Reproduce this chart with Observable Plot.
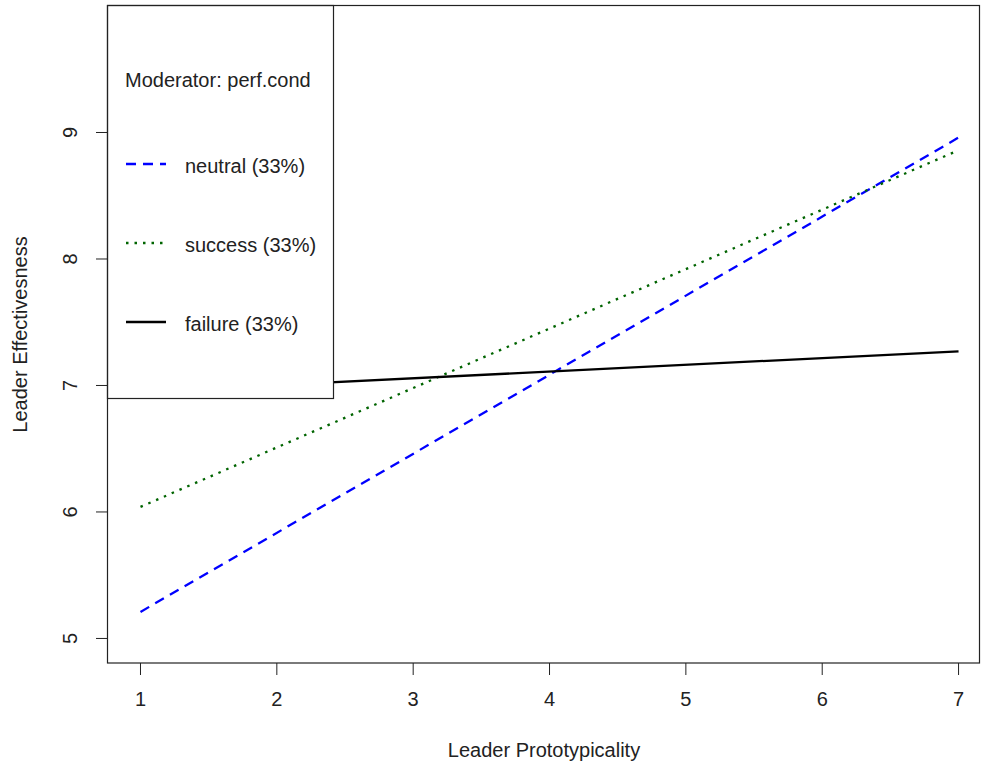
<!DOCTYPE html>
<html>
<head>
<meta charset="utf-8">
<script src="https://cdn.jsdelivr.net/npm/d3@7"></script>
<script src="https://cdn.jsdelivr.net/npm/@observablehq/plot@0.6"></script>
<style>
  html, body { margin: 0; padding: 0; background: #fff; }
  #chart { position: relative; width: 981px; height: 767px; }
</style>
</head>
<body>
<div id="chart"></div>
<script>
// Data
const xValues = [1, 7];
const neutral = [5.21, 8.96];
const success = [6.04, 8.86];
const failure = [6.95, 7.27];
const xTicks = [1, 2, 3, 4, 5, 6, 7];
const yTicks = [5, 6, 7, 8, 9];
const seriesNames = ["neutral (33%)", "success (33%)", "failure (33%)"];
const legendTitle = "Moderator: perf.cond";

const rows = [];
xValues.forEach((x, i) => {
  rows.push({series: "neutral", x, y: neutral[i]});
  rows.push({series: "success", x, y: success[i]});
  rows.push({series: "failure", x, y: failure[i]});
});
const styles = {
  neutral: {stroke: "#0000ff", dash: "10,7"},
  success: {stroke: "#006400", dash: "2.5,6"},
  failure: {stroke: "#000000", dash: null}
};

const font = "Liberation Sans, Arial, sans-serif";
const ink = "#222";
const fs = 20;

const plot = Plot.plot({
  width: 981,
  height: 767,
  marginLeft: 107,
  marginRight: 1,
  marginTop: 5,
  marginBottom: 104,
  style: {fontFamily: font, fontSize: fs + "px", color: ink, background: "#fff"},
  x: {domain: [0.758, 7.161]},
  y: {domain: [4.802, 10.004]},
  marks: [
    ...["neutral", "success", "failure"].map(s =>
      Plot.line(rows.filter(d => d.series === s), {
        x: "x", y: "y",
        stroke: styles[s].stroke,
        strokeWidth: 2.3,
        strokeDasharray: styles[s].dash,
        strokeLinecap: "butt"
      })
    ),
    Plot.axisX({ticks: xTicks, tickSize: 12, tickPadding: 16, tickFormat: d3.format("d"),
      label: null, fontSize: fs, stroke: ink}),
    Plot.axisY({ticks: yTicks, tickSize: 11, tickPadding: 20, tickRotate: -90,
      tickFormat: d3.format("d"), label: null, fontSize: fs, stroke: ink}),
    Plot.text(["Leader Prototypicality"], {frameAnchor: "bottom", dy: 87, fontSize: fs, fill: ink, lineAnchor: "middle"}),
    Plot.text(["Leader Effectivesness"], {frameAnchor: "left", dx: -87, rotate: -90, textAnchor: "middle", fontSize: fs, fill: ink}),
  ]
});
document.getElementById("chart").appendChild(plot);

// Legend box (white filled, covering lines) and plot frame
const svg = d3.select(plot);
const g = svg.append("g").attr("font-family", font).attr("font-size", fs).attr("text-anchor", "start");
g.append("rect").attr("x", 107.5).attr("y", 5.5).attr("width", 226).attr("height", 393)
  .attr("fill", "#fff").attr("stroke", ink).attr("stroke-width", 1.2);
g.append("text").attr("x", 125).attr("y", 80).attr("dy", "0.35em").attr("fill", ink).text(legendTitle);
const legendY = [164, 243, 322];
["neutral", "success", "failure"].forEach((s, i) => {
  g.append("line").attr("x1", 126).attr("x2", 166).attr("y1", legendY[i]).attr("y2", legendY[i])
    .attr("stroke", styles[s].stroke).attr("stroke-width", 2.3)
    .attr("stroke-dasharray", styles[s].dash || null);
  g.append("text").attr("x", 185).attr("y", legendY[i] + 2).attr("dy", "0.35em").attr("fill", ink).text(seriesNames[i]);
});
// plot box
svg.append("rect").attr("x", 107.5).attr("y", 5.5).attr("width", 872).attr("height", 657.5)
  .attr("fill", "none").attr("stroke", ink).attr("stroke-width", 1.2);
</script>
</body>
</html>
